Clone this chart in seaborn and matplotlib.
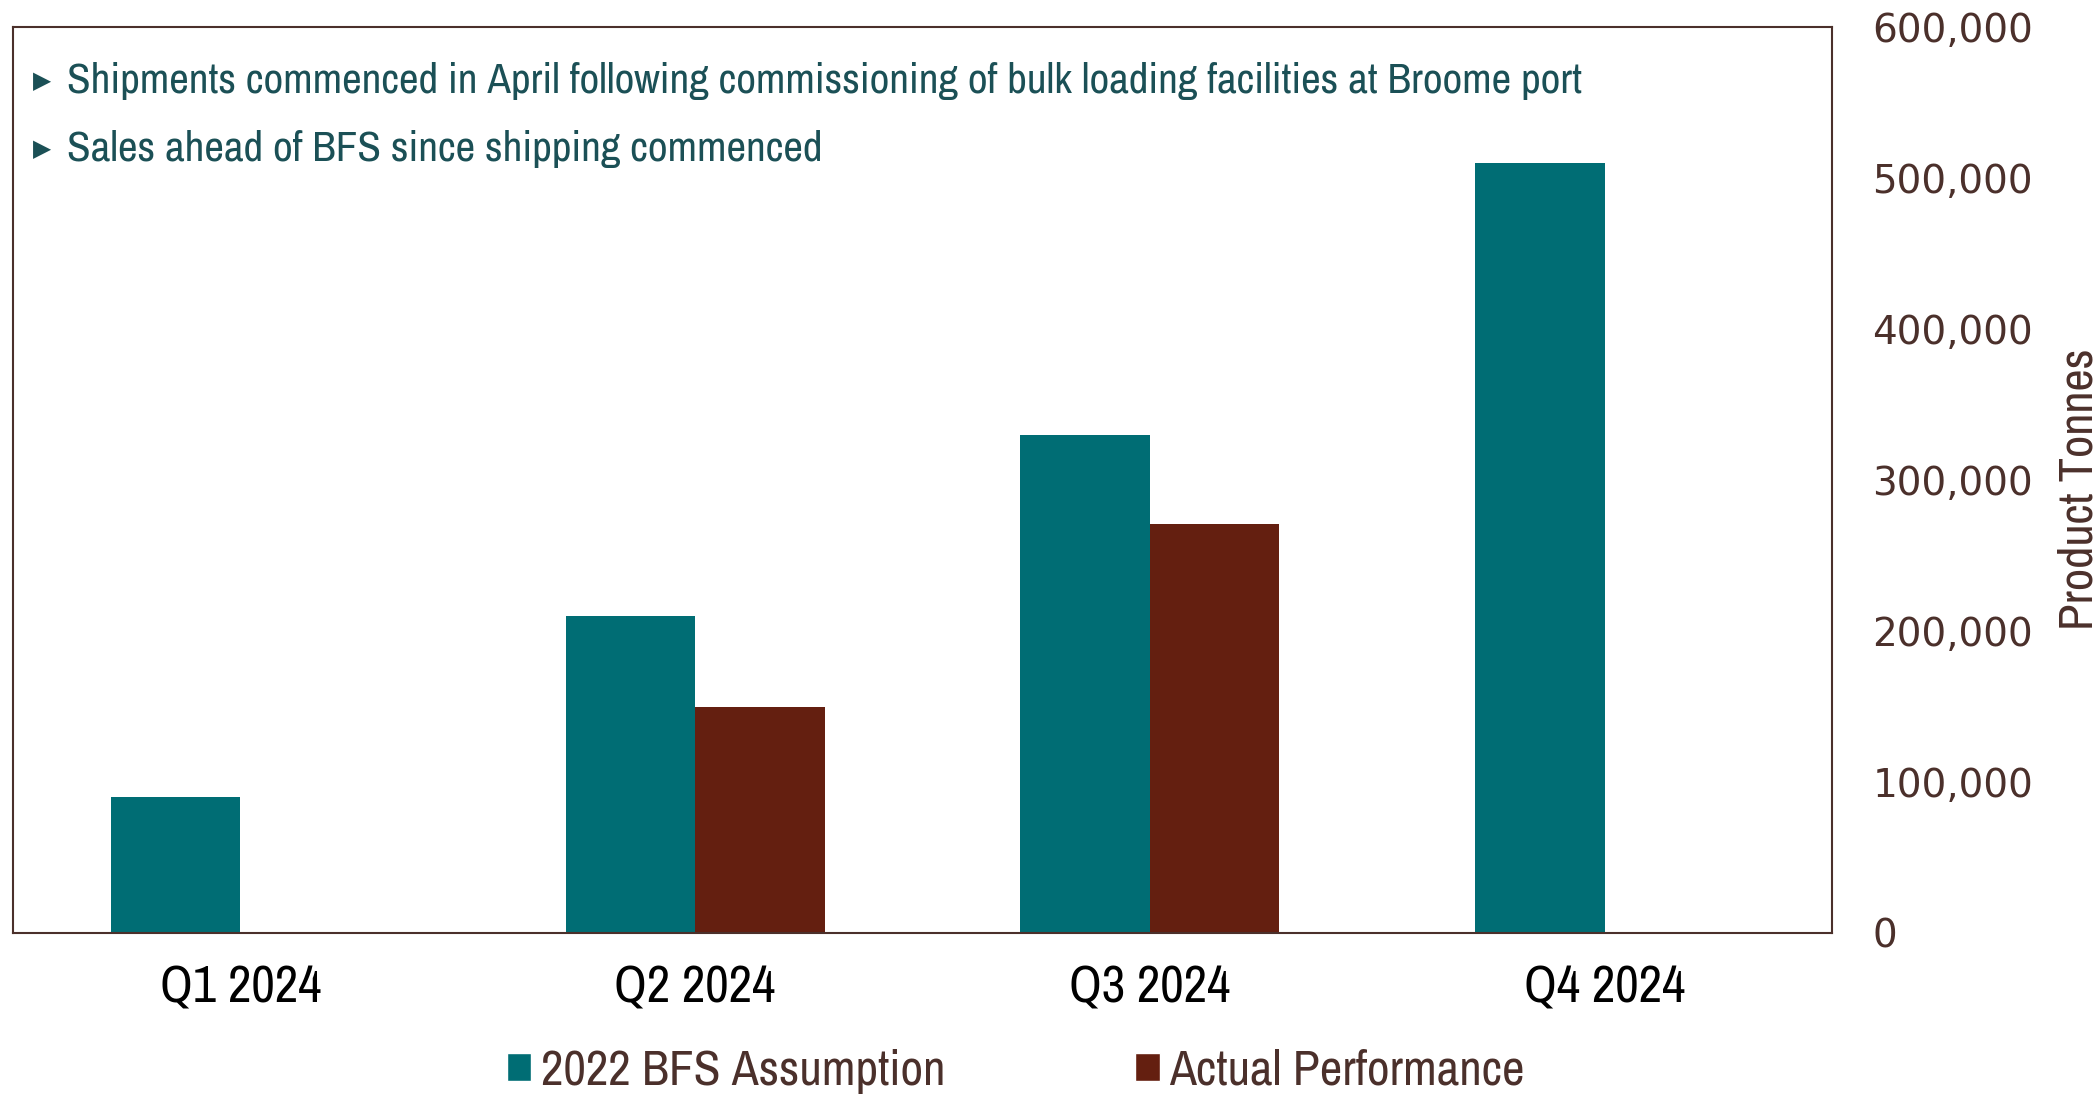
"""Quarterly product sales: 2022 BFS assumption vs actual performance."""

import matplotlib

matplotlib.use("Agg")
import matplotlib.pyplot as plt
import numpy as np
import pandas as pd
import seaborn as sns
from matplotlib.patches import Patch
from matplotlib.ticker import FuncFormatter

quarters = ["Q1 2024", "Q2 2024", "Q3 2024", "Q4 2024"]
bfs_assumption = [90000, 210000, 330000, 510000]
actual_performance = [np.nan, 150000, 271000, np.nan]
series_names = ["2022 BFS Assumption", "Actual Performance"]
notes = [
    "Shipments commenced in April following commissioning of bulk loading facilities at Broome port",
    "Sales ahead of BFS since shipping commenced",
]
y_ticks = [0, 100000, 200000, 300000, 400000, 500000, 600000]

TEAL = "#006D74"
BROWN = "#641F10"
NOTE_COLOR = "#1B5056"
AXIS_COLOR = "#4B302B"
NARROW = ["Archivo Narrow", "Roboto Condensed", "DejaVu Sans"]

df = pd.DataFrame(
    {
        "Quarter": quarters * 2,
        "Series": [series_names[0]] * 4 + [series_names[1]] * 4,
        "Tonnes": bfs_assumption + actual_performance,
    }
)

sns.set_theme(style="white")
plt.rcParams["font.family"] = ["DejaVu Sans"]

fig, ax = plt.subplots(figsize=(21, 10.96), dpi=100)
fig.subplots_adjust(left=13 / 2100, right=1832 / 2100, top=1 - 27 / 1096, bottom=1 - 933 / 1096)

sns.barplot(
    data=df,
    x="Quarter",
    y="Tonnes",
    hue="Series",
    palette=[TEAL, BROWN],
    width=0.57,
    saturation=1,
    linewidth=0,
    ax=ax,
    legend=False,
)

ax.set_xlim(-0.5, 3.5)
ax.set_ylim(0, 600000)
ax.set_yticks(y_ticks)
ax.yaxis.tick_right()
ax.yaxis.set_major_formatter(FuncFormatter(lambda v, _: f"{int(v):,}"))
ax.tick_params(axis="y", length=0, pad=29, labelsize=28, labelcolor=AXIS_COLOR)
ax.tick_params(axis="x", length=0, pad=23, labelsize=37, labelcolor="black")
for lbl in ax.get_xticklabels():
    lbl.set_family(NARROW)
ax.set_xlabel("")
ax.set_ylabel("")

for spine in ax.spines.values():
    spine.set_visible(True)
    spine.set_color(AXIS_COLOR)
    spine.set_linewidth(1.5)

fig.text(
    2079 / 2100, 1 - 489 / 1096, "Product Tonnes",
    rotation=90, ha="center", va="center", fontsize=35, color=AXIS_COLOR, family=NARROW,
)

# bullet notes: small arrow glyph, then the text
for i, note in enumerate(notes):
    y = 1 - (54 + 68 * i) / 906
    ax.text(
        20 / 1819, y, "\u25B6",
        transform=ax.transAxes, ha="left", va="center",
        fontsize=17, color=NOTE_COLOR, family="DejaVu Sans",
    )
    ax.text(
        54 / 1819, y, note,
        transform=ax.transAxes, ha="left", va="center",
        fontsize=31, color=NOTE_COLOR, family=NARROW,
    )

handles = [Patch(facecolor=TEAL), Patch(facecolor=BROWN)]
leg = fig.legend(
    handles,
    series_names,
    loc="center",
    bbox_to_anchor=(1016 / 2100, 1 - 1071 / 1096),
    ncol=2,
    frameon=False,
    handlelength=0.49,
    handleheight=0.49,
    handletextpad=0.2,
    columnspacing=3.85,
    prop={"family": NARROW, "size": 35.5},
)
for t in leg.get_texts():
    t.set_color(AXIS_COLOR)

fig.savefig("out.png", dpi=100)
